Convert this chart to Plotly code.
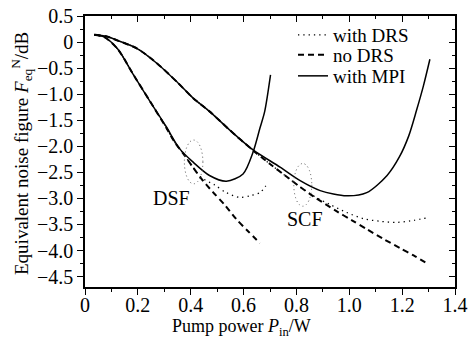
import plotly.graph_objects as go

# ---------------- data ----------------
# SCF fibre (upper family)
scf_mpi_p = [0.035, 0.08, 0.123, 0.199, 0.275, 0.351, 0.408, 0.471, 0.55, 0.636, 0.738, 0.814, 0.89, 0.99, 1.066, 1.143, 1.19, 1.225, 1.255, 1.28, 1.305]
scf_mpi_f = [0.14, 0.11, 0.03, -0.13, -0.42, -0.78, -1.07, -1.33, -1.70, -2.07, -2.40, -2.66, -2.85, -2.95, -2.89, -2.56, -2.20, -1.80, -1.30, -0.85, -0.33]

scf_nodrs_p = [0.035, 0.08, 0.123, 0.199, 0.275, 0.351, 0.408, 0.471, 0.55, 0.636, 0.70, 0.757, 0.814, 0.864, 0.953, 1.01, 1.066, 1.13, 1.194, 1.245, 1.295]
scf_nodrs_f = [0.14, 0.11, 0.03, -0.13, -0.42, -0.78, -1.07, -1.33, -1.70, -2.08, -2.34, -2.56, -2.78, -2.96, -3.25, -3.42, -3.59, -3.78, -3.96, -4.10, -4.25]

scf_drs_p = [0.035, 0.08, 0.123, 0.199, 0.275, 0.351, 0.408, 0.471, 0.55, 0.636, 0.70, 0.757, 0.814, 0.864, 0.928, 0.99, 1.054, 1.118, 1.18, 1.245, 1.295]
scf_drs_f = [0.14, 0.11, 0.03, -0.13, -0.42, -0.78, -1.07, -1.33, -1.70, -2.08, -2.34, -2.56, -2.78, -2.95, -3.12, -3.27, -3.39, -3.44, -3.46, -3.42, -3.37]

# DSF fibre (lower family)
dsf_mpi_p = [0.035, 0.072, 0.123, 0.186, 0.25, 0.307, 0.357, 0.408, 0.471, 0.535, 0.598, 0.636, 0.662, 0.68, 0.702]
dsf_mpi_f = [0.14, 0.10, -0.13, -0.65, -1.17, -1.62, -2.04, -2.30, -2.56, -2.67, -2.53, -2.11, -1.65, -1.33, -0.63]

dsf_nodrs_p = [0.035, 0.072, 0.123, 0.186, 0.25, 0.307, 0.338, 0.376, 0.408, 0.44, 0.484, 0.528, 0.573, 0.617, 0.662]
dsf_nodrs_f = [0.14, 0.10, -0.13, -0.65, -1.17, -1.64, -1.91, -2.17, -2.40, -2.62, -2.88, -3.12, -3.40, -3.63, -3.86]

dsf_drs_p = [0.035, 0.072, 0.123, 0.186, 0.25, 0.307, 0.338, 0.376, 0.408, 0.44, 0.49, 0.535, 0.586, 0.624, 0.662, 0.684]
dsf_drs_f = [0.14, 0.10, -0.13, -0.65, -1.17, -1.64, -1.91, -2.17, -2.40, -2.60, -2.74, -2.89, -2.98, -2.95, -2.89, -2.76]

# ellipse markers (centre P, centre F, half width, half height) and labels
ellipse_p = [0.411, 0.824]
ellipse_f = [-2.30, -2.74]
ellipse_rp = [0.035, 0.034]
ellipse_rf = [0.42, 0.41]
label_text = ["DSF", "SCF"]
label_p = [0.327, 0.833]
label_f = [-3.0, -3.39]

legend_names = ["with DRS", "no DRS", "with MPI"]

x_tickvals = [0, 0.2, 0.4, 0.6, 0.8, 1.0, 1.2, 1.4]
x_ticktext = ["0", "0.2", "0.4", "0.6", "0.8", "1.0", "1.2", "1.4"]
y_tickvals = [0.5, 0, -0.5, -1.0, -1.5, -2.0, -2.5, -3.0, -3.5, -4.0, -4.5]
y_ticktext = ["0.5", "0", "\u22120.5", "\u22121.0", "\u22121.5", "\u22122.0", "\u22122.5",
              "\u22123.0", "\u22123.5", "\u22124.0", "\u22124.5"]

FONT = "Liberation Serif, Times New Roman, serif"
TXT = dict(family=FONT, size=19, color="black")
DOT = dict(color="black", width=1.3, dash="1.3px,4px")
DASH = dict(color="black", width=2, dash="6px,4px")
SOLID = dict(color="black", width=1.5)

# plot area in pixels (for placing legends / titles)
L, R, T, B, W, H = 85, 15, 16, 51, 470, 338
PW, PH = W - L - R, H - T - B
def px_x(p):
    return (p - L) / PW
def px_y(p):
    return 1 - (p - T) / PH

legend_ids = ["legend", "legend2", "legend3"]
legend_rows = [35, 55, 76]

fig = go.Figure()
series = [
    (legend_names[0], DOT, [(scf_drs_p, scf_drs_f), (dsf_drs_p, dsf_drs_f)]),
    (legend_names[1], DASH, [(scf_nodrs_p, scf_nodrs_f), (dsf_nodrs_p, dsf_nodrs_f)]),
    (legend_names[2], SOLID, [(scf_mpi_p, scf_mpi_f), (dsf_mpi_p, dsf_mpi_f)]),
]
for k, (name, style, curves) in enumerate(series):
    for i, (cx, cy) in enumerate(curves):
        fig.add_trace(go.Scatter(
            x=cx, y=cy, mode="lines", name=name, legendgroup=name, legend=legend_ids[k],
            showlegend=(i == 0), line=dict(shape="spline", smoothing=0.8, **style)))

for cp, cf, rp, rf in zip(ellipse_p, ellipse_f, ellipse_rp, ellipse_rf):
    fig.add_shape(type="circle", xref="x", yref="y",
                  x0=cp - rp, x1=cp + rp, y0=cf - rf, y1=cf + rf,
                  line=dict(color="#555", width=1, dash="1px,3px"))

for t, lp, lf in zip(label_text, label_p, label_f):
    fig.add_annotation(x=lp, y=lf, text=t, showarrow=False, xref="x", yref="y",
                       font=dict(family=FONT, size=20, color="black"))

# axis titles
fig.add_annotation(text="Pump power <i>P</i><sub>in</sub>/W", xref="paper", yref="paper",
                   x=px_x(241), y=px_y(327), xanchor="center", yanchor="middle",
                   showarrow=False, font=dict(family=FONT, size=18, color="black"))
fig.add_annotation(text="Equivalent noise figure <i>F</i><sub>eq</sub><sup>N</sup>/dB",
                   xref="paper", yref="paper", x=px_x(21), y=px_y(154), textangle=-90,
                   xanchor="center", yanchor="middle", showarrow=False, font=TXT)

common = dict(showline=True, linecolor="black", linewidth=1.5, showgrid=False,
              zeroline=False, ticks="outside", ticklen=6, tickwidth=1.2, tickcolor="black",
              automargin=False, tickfont=dict(family=FONT, size=20, color="black"))
frame = dict(showline=True, linecolor="black", linewidth=1.5, showgrid=False, zeroline=False,
             showticklabels=False, ticks="inside", ticklen=6, tickcolor="black", automargin=False)

leg_common = dict(xanchor="left", yanchor="middle", bgcolor="rgba(0,0,0,0)",
                  font=TXT, itemwidth=30, borderwidth=0)
legends = {lid: dict(x=px_x(293), y=px_y(row), **leg_common)
           for lid, row in zip(legend_ids, legend_rows)}

fig.update_layout(
    template="none",
    width=W, height=H, autosize=False,
    margin=dict(l=L, r=R, t=T, b=B, pad=0, autoexpand=False),
    paper_bgcolor="white", plot_bgcolor="white",
    font=TXT,
    showlegend=True,
    xaxis=dict(range=[0, 1.4], tickvals=x_tickvals, ticktext=x_ticktext, ticklabelstandoff=-7,
               minor=dict(dtick=0.1, tick0=0, ticks="outside", ticklen=3, tickcolor="black"),
               **common),
    yaxis=dict(range=[-4.7, 0.5], tickvals=y_tickvals, ticktext=y_ticktext,
               minor=dict(dtick=0.25, tick0=0, ticks="outside", ticklen=3, tickcolor="black"),
               **common),
    xaxis2=dict(range=[0, 1.4], overlaying="x", side="top", tickvals=x_tickvals,
                minor=dict(dtick=0.1, tick0=0, ticks="inside", ticklen=3, tickcolor="black"),
                **frame),
    yaxis2=dict(range=[-4.7, 0.5], overlaying="y", side="right", tickvals=y_tickvals,
                minor=dict(dtick=0.25, tick0=0, ticks="inside", ticklen=3, tickcolor="black"),
                **frame),
    **legends,
)
# invisible anchor trace so the mirrored frame axes are drawn
fig.add_trace(go.Scatter(x=[None], y=[None], xaxis="x2", yaxis="y2", showlegend=False,
                         hoverinfo="skip"))

fig.write_html("out.html", config={"displayModeBar": False},
               post_script="document.body.style.margin='0px';")
